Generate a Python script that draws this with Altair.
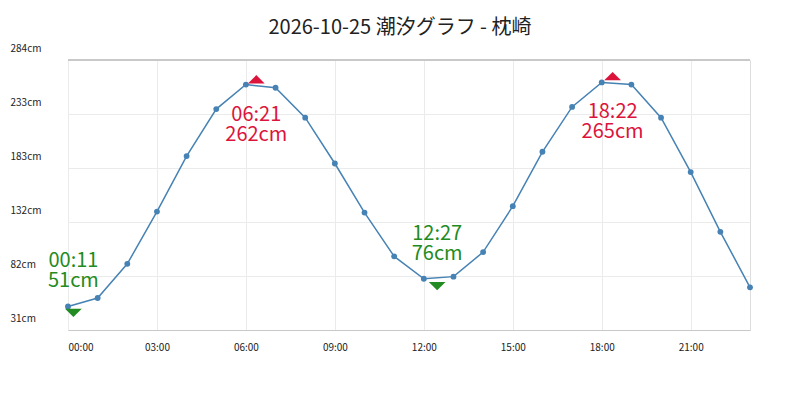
import altair as alt
import pandas as pd

hours = list(range(24))
levels = [53, 61, 93, 142, 194, 238, 261, 258, 230, 187, 141, 100,
          79, 81, 104, 147, 198, 240, 263, 261, 230, 179, 123, 71]

high_times = [6.35, 18.367]
high_labels = ["06:21", "18:22"]
high_levels = [262, 265]

low_times = [0.183, 12.45]
low_labels = ["00:11", "12:27"]
low_levels = [51, 76]

y_ticks = [31, 81.6, 132.2, 182.8, 233.4, 284]
x_ticks = [0, 3, 6, 9, 12, 15, 18, 21]

FONT = "Noto Sans CJK JP"
LINE = "#4682b4"
RED = "#dc143c"
GREEN = "#228b22"

df = pd.DataFrame({"h": hours, "v": levels})
hi = pd.DataFrame({"h": high_times, "t": high_labels, "v": high_levels})
lo = pd.DataFrame({"h": low_times, "t": low_labels, "v": low_levels})

xs = alt.Scale(domain=[0, 23], nice=False, zero=False)
ys = alt.Scale(domain=[31, 284], nice=False, zero=False)

x_axis = alt.Axis(values=x_ticks, labelExpr="(datum.value < 10 ? '0' : '') + datum.value + ':00'",
                  title=None, ticks=False, grid=True, gridColor="#ebebeb",
                  domainColor="#c8c8c8", labelFont=FONT, labelFontSize=10,
                  labelColor="#222", labelPadding=12, labelAngle=0)
y_axis = alt.Axis(values=y_ticks, labelExpr="format(datum.value, '.0f') + 'cm'",
                  title=None, ticks=False, domain=False, grid=True, gridColor="#ebebeb",
                  labelFont=FONT, labelFontSize=10, labelColor="#222",
                  labelAlign="left", labelBaseline="middle", labelPadding=58,
                  labelOffset=-12)

base = alt.Chart(df)
line = base.mark_line(color=LINE, strokeWidth=1.5).encode(
    x=alt.X("h:Q", scale=xs, axis=x_axis),
    y=alt.Y("v:Q", scale=ys, axis=y_axis),
)
pts = base.mark_circle(color=LINE, size=34, opacity=1).encode(
    x=alt.X("h:Q", scale=xs), y=alt.Y("v:Q", scale=ys)
)
top_rule = base.mark_rule(color="#c8c8c8", strokeWidth=1).encode(y=alt.datum(284))

hi_tri = alt.Chart(hi).mark_point(shape="M-1,0L1,0L0,-1Z", filled=True, color=RED,
                                  size=280, opacity=1).encode(
    x=alt.X("h:Q", scale=xs), y=alt.Y("v:Q", scale=ys))
lo_tri = alt.Chart(lo).mark_point(shape="M-1,0L1,0L0,1Z", filled=True, color=GREEN,
                                  size=280, opacity=1).encode(
    x=alt.X("h:Q", scale=xs), y=alt.Y("v:Q", scale=ys))

hi_txt = alt.Chart(hi).transform_calculate(
    lab="[datum.t, datum.v + 'cm']"
).mark_text(font=FONT, fontSize=20, color=RED, baseline="top", dy=22,
            lineHeight=20, align="center").encode(
    x=alt.X("h:Q", scale=xs), y=alt.Y("v:Q", scale=ys), text="lab:N")
lo_txt = alt.Chart(lo).transform_calculate(
    lab="[datum.t, datum.v + 'cm']"
).mark_text(font=FONT, fontSize=20, color=GREEN, baseline="bottom", dy=-38,
            lineHeight=20, align="center").encode(
    x=alt.X("h:Q", scale=xs), y=alt.Y("v:Q", scale=ys), text="lab:N")

chart = alt.layer(top_rule, line, pts, hi_tri, lo_tri, hi_txt, lo_txt).properties(
    width=682, height=270,
    title=alt.TitleParams("2026-10-25 潮汐グラフ - 枕崎", font=FONT, fontSize=20,
                          fontWeight="normal", color="#222", anchor="middle",
                          dx=-9, offset=5),
    autosize=alt.AutoSizeParams(type="none"),
    padding={"left": 68, "top": 60, "right": 50, "bottom": 70},
).configure_view(stroke=None).configure(background="white")

chart.save("out.html", embed_options={"renderer": "svg", "actions": False})
